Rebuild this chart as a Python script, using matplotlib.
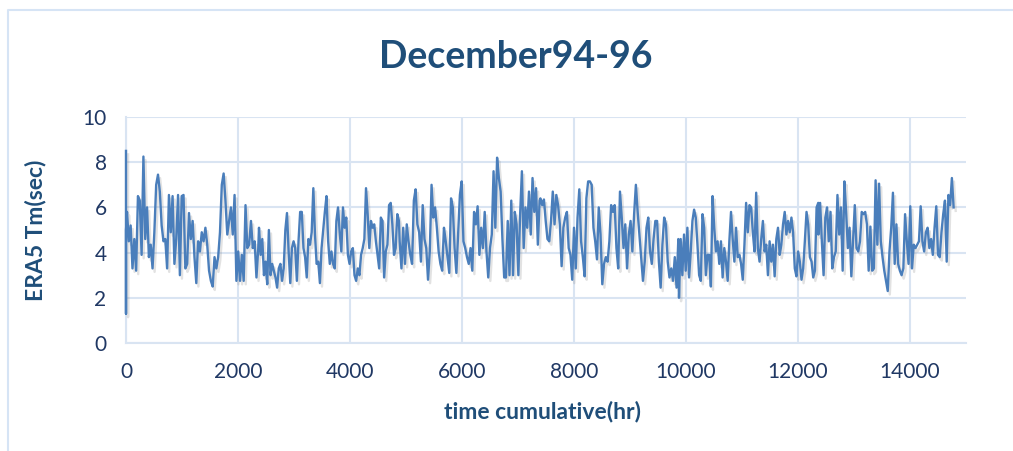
import matplotlib
matplotlib.use("Agg")
import matplotlib.pyplot as plt
import matplotlib.patheffects as pe
from matplotlib.lines import Line2D
import numpy as np

##### Chart data #####
title = "December94-96"
x_label = "time cumulative(hr)"
y_label = "ERA5 Tm(sec)"
x_ticks = [0, 2000, 4000, 6000, 8000, 10000, 12000, 14000]
y_ticks = [0, 2, 4, 6, 8, 10]

# first hour shows a tall spike
start_hours = [0, 0, 0]
start_vals = [8.5, 1.3, 5.0]

# each segment: (first hour, last hour) and the values in between
seg1_hours = (18, 2362)
seg1_vals = [5.8, 4.5, 5.2, 3.3, 4.6, 3.2, 6.5, 6.3, 3.9, 8.25, 4.6, 6.0, 3.8, 4.35, 3.3, 4.9,
             7.0, 7.45, 6.7, 5.2, 4.5, 4.6, 3.3, 6.55, 4.9, 6.5, 3.5, 4.6, 6.55, 3.0, 6.5, 6.55,
             3.3, 3.5, 5.75, 4.6, 5.4, 3.8, 2.65, 4.5, 4.05, 4.9, 4.5, 5.1, 4.35, 3.2, 2.75, 2.5,
             3.8, 3.3, 3.8, 4.9, 7.0, 7.5, 6.3, 4.8, 5.4, 6.0, 4.8, 6.55, 2.75, 4.05, 2.75, 3.9,
             2.75, 6.1, 4.2, 4.35, 5.4, 4.2, 4.5, 2.9, 4.2]

seg2_hours = (2375, 4874)
seg2_vals = [5.1, 3.9, 4.6, 3.0, 3.6, 2.6, 5.0, 3.0, 3.5, 3.2, 2.9, 2.45, 3.3, 3.5, 2.75, 3.3,
             5.0, 5.75, 4.05, 2.65, 4.2, 4.5, 4.2, 2.75, 4.5, 5.8, 5.8, 4.2, 3.8, 2.9, 4.6, 4.35,
             4.9, 6.85, 4.8, 3.5, 3.6, 2.65, 4.2, 5.0, 5.8, 6.5, 4.5, 3.5, 4.05, 3.5, 3.3, 5.4,
             6.0, 4.9, 4.05, 6.0, 5.1, 5.55, 3.9, 3.5, 4.05, 4.2, 3.0, 2.75, 3.3, 3.0, 3.9, 4.2,
             4.6, 6.85, 5.7, 4.2, 5.4, 5.1, 5.25, 4.5, 3.9, 3.3, 5.55, 5.4, 2.9, 4.05, 4.35, 6.1,
             6.2, 5.25, 3.9, 4.2, 5.7, 5.4]

seg3_hours = (4887, 7386)
seg3_vals = [4.5, 3.3, 5.1, 3.5, 5.25, 4.5, 3.9, 3.5, 6.3, 6.8, 5.25, 4.9, 3.6, 6.1, 4.6, 4.2,
             2.8, 4.05, 7.0, 5.55, 6.0, 5.1, 4.05, 3.5, 3.2, 5.1, 4.5, 3.8, 3.1, 6.4, 6.0, 4.2,
             3.1, 4.8, 6.55, 7.15, 4.5, 4.2, 3.8, 3.5, 4.2, 3.2, 5.8, 5.25, 6.05, 3.9, 5.1, 4.2,
             5.8, 4.05, 2.9, 4.2, 4.8, 7.6, 5.1, 8.2, 7.3, 6.7, 4.6, 2.9, 2.9, 5.4, 3.0, 6.3,
             3.0, 5.8, 5.25, 3.0, 5.7, 7.6, 4.2, 6.0, 5.1, 6.7, 4.8, 7.3, 5.8, 6.85, 4.35, 6.3]

seg4_hours = (7400, 9863)
seg4_vals = [6.4, 6.1, 6.35, 5.4, 4.6, 4.5, 5.4, 6.7, 5.25, 6.55, 6.1, 5.25, 3.4, 5.1, 5.55, 5.8,
             4.2, 3.9, 2.8, 5.1, 3.3, 5.55, 6.8, 4.5, 3.8, 2.95, 6.4, 7.15, 7.15, 7.0, 5.1, 4.5,
             3.7, 6.0, 4.8, 2.6, 3.5, 3.8, 3.6, 4.5, 6.1, 5.8, 6.1, 4.2, 3.3, 6.7, 5.55, 4.2,
             5.25, 3.3, 4.8, 5.4, 4.05, 5.7, 7.0, 5.8, 4.8, 3.8, 2.75, 3.6, 5.1, 5.55, 4.05, 3.5,
             4.6, 5.4, 5.4, 3.6, 2.45, 4.35, 5.55, 5.25, 3.6, 2.9, 3.3, 2.75, 3.8, 2.45, 4.6]

seg5_hours = (9875, 12362)
seg5_vals = [2.0, 4.6, 3.0, 4.8, 3.2, 5.1, 2.9, 4.05, 5.4, 5.9, 5.55, 4.35, 3.0, 2.75, 5.7, 5.1,
             3.0, 3.9, 3.9, 2.5, 6.5, 5.1, 4.05, 4.5, 3.5, 4.5, 2.9, 4.2, 3.6, 2.75, 4.5, 5.8,
             4.6, 3.6, 5.1, 3.8, 3.9, 3.5, 2.8, 4.35, 6.2, 4.9, 6.1, 6.0, 4.9, 4.05, 6.65, 4.2,
             3.6, 4.6, 5.4, 4.05, 4.35, 3.0, 4.5, 3.6, 4.35, 2.95, 4.6, 5.1, 3.9, 4.35, 5.25, 5.8,
             4.8, 5.4, 4.9, 5.55, 4.9, 3.3, 2.95, 4.05, 3.6, 2.8, 3.3, 4.5, 5.8, 5.25, 3.8, 3.6,
             2.9, 3.2, 6.0, 6.2]

seg6_hours = (12364, 14779)
seg6_vals = [4.8, 6.2, 4.5, 3.0, 5.55, 6.0, 4.5, 5.8, 3.3, 3.8, 4.05, 6.55, 4.8, 6.0, 3.2, 7.15,
             5.8, 4.2, 5.1, 2.95, 4.5, 6.1, 4.2, 4.05, 4.5, 5.8, 5.7, 5.8, 5.25, 3.2, 5.15, 3.2,
             3.3, 7.2, 4.35, 7.05, 4.5, 3.8, 3.2, 2.75, 2.3, 4.05, 5.1, 6.65, 3.5, 5.25, 3.5, 3.2,
             3.0, 3.3, 5.7, 4.5, 3.5, 6.05, 3.3, 4.35, 4.2, 4.35, 4.5, 6.05, 4.5, 4.05, 4.9, 5.1,
             4.2, 4.6, 3.9, 5.1, 6.05, 3.9, 3.8, 4.9, 5.7, 6.3, 3.6, 6.55, 6.1, 7.3, 6.0]

segments = [(seg1_hours, seg1_vals), (seg2_hours, seg2_vals), (seg3_hours, seg3_vals),
            (seg4_hours, seg4_vals), (seg5_hours, seg5_vals), (seg6_hours, seg6_vals)]

##### Style #####
line_color = '#4a7ebb'
grid_color = '#d9e4f2'
title_color = '#1f4e79'
tick_color = '#203864'
font = 'Lato'

# build the full series
hours = list(start_hours)
values = list(start_vals)
for (h0, h1), vals in segments:
    hours += list(np.linspace(h0, h1, len(vals)))
    values += vals

fig = plt.figure(figsize=(10.13, 4.51), dpi=100)
ax = fig.add_axes([126 / 1013, 1 - 343 / 451, 840 / 1013, 226 / 451])

ax.plot(hours, values, color=line_color, lw=1.7, solid_joinstyle='round', clip_on=False,
        path_effects=[pe.SimpleLineShadow(offset=(1.5, -2.5), shadow_color='#7f7f7f', alpha=0.22),
                      pe.Normal()])

ax.set_xlim(0, 15000)
ax.set_ylim(0, 10)
ax.set_xticks(x_ticks)
ax.set_yticks(y_ticks)
ax.grid(True, color=grid_color, lw=1.5)
ax.set_axisbelow(True)
for side in ['top', 'right']:
    ax.spines[side].set_visible(False)
for side in ['left', 'bottom']:
    ax.spines[side].set_color(grid_color)
    ax.spines[side].set_linewidth(1.5)
    ax.spines[side].set_zorder(0.5)
ax.tick_params(length=0, labelsize=15, colors=tick_color, pad=14)
for lab in ax.get_xticklabels() + ax.get_yticklabels():
    lab.set_fontfamily(font)

fig.text(516 / 1013, 1 - 57 / 451, title, ha='center', va='center',
         fontsize=27, fontweight='bold', color=title_color, family=font)
fig.text(542 / 1013, 1 - 411 / 451, x_label, ha='center', va='center',
         fontsize=16.5, fontweight='bold', color=title_color, family=font)
fig.text(35 / 1013, 1 - 230 / 451, y_label, ha='center', va='center', rotation=90,
         fontsize=16.5, fontweight='bold', color=title_color, family=font)

# light chart-area border (left and top edges)
fig.add_artist(Line2D([8 / 1013, 8 / 1013, 1], [0, 1 - 10 / 451, 1 - 10 / 451],
                      transform=fig.transFigure, color='#d6e4f5', lw=1.5))

fig.savefig('out.png', dpi=100, facecolor='white')
